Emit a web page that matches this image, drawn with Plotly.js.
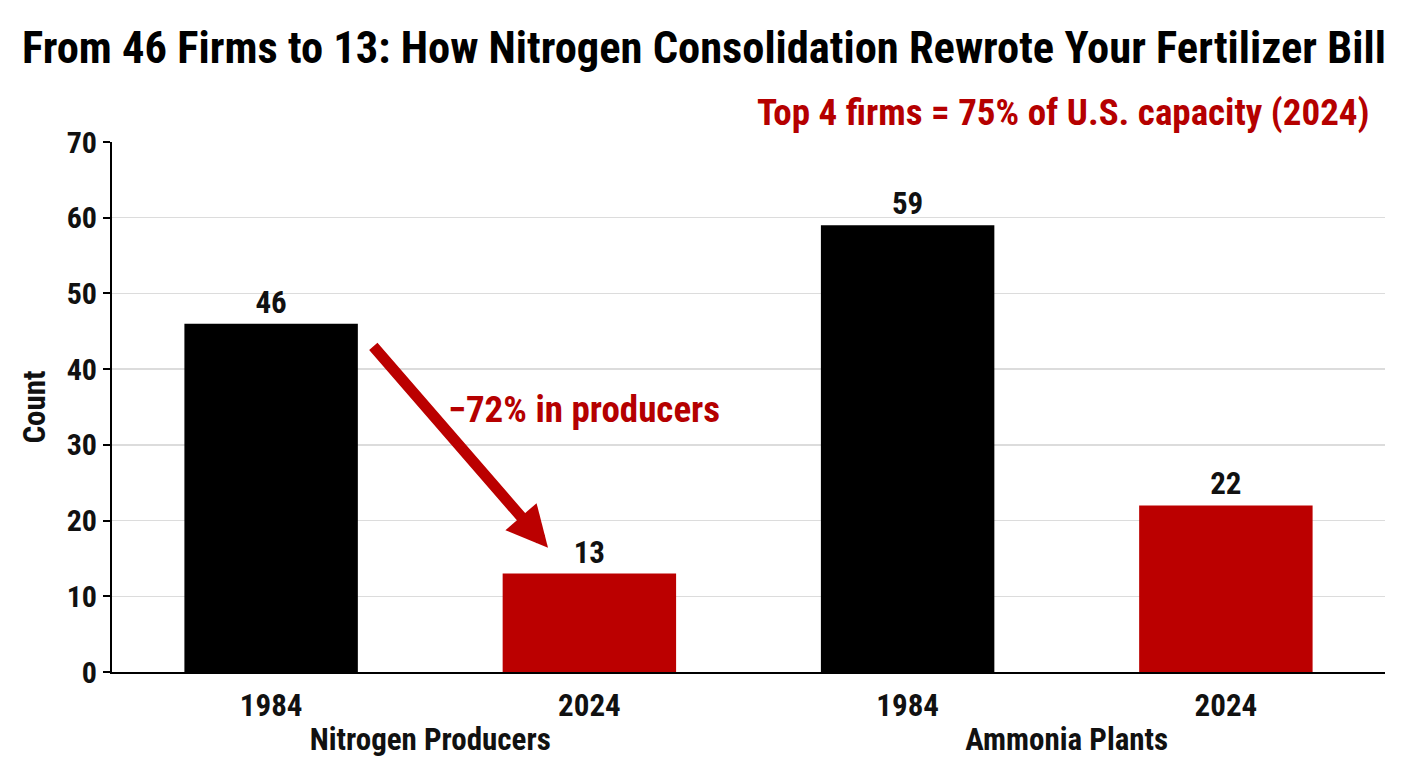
<!DOCTYPE html>
<html>
<head>
<meta charset="utf-8">
<script src="https://cdn.plot.ly/plotly-3.0.1.min.js"></script>
<style>html,body{margin:0;padding:0;background:#fff;}#chart{width:1408px;height:768px;}</style>
</head>
<body>
<div id="chart"></div>
<script>
const groups = ["Nitrogen Producers", "Nitrogen Producers", "Ammonia Plants", "Ammonia Plants"];
const years = ["1984", "2024", "1984", "2024"];
const counts = [46, 13, 59, 22];
const barColors = ["#000000", "#BB0000", "#000000", "#BB0000"];
const yTicks = [0, 10, 20, 30, 40, 50, 60, 70];

const FONT = "'Roboto Condensed', 'Liberation Sans Narrow', 'Arial Narrow', Roboto, sans-serif";
const RED = "#B50000";

const trace = {
  type: "bar",
  x: [groups, years],
  y: counts,
  marker: {color: barColors, line: {width: 0}},
  width: 0.545,
  text: counts.map(String),
  textposition: "outside",
  cliponaxis: false,
  textfont: {family: FONT, size: 31, color: "#111", weight: "bold"},
  hoverinfo: "skip"
};

const layout = {
  width: 1408, height: 768,
  margin: {l: 112, r: 23, t: 142, b: 96},
  paper_bgcolor: "#fff", plot_bgcolor: "#fff",
  font: {family: FONT, color: "#111", weight: "bold"},
  showlegend: false,
  title: {
    text: "From 46 Firms to 13: How Nitrogen Consolidation Rewrote Your Fertilizer Bill",
    font: {family: FONT, size: 44.5, color: "#000", weight: "bold"},
    x: 0.5, xanchor: "center", y: 0.938, yanchor: "middle"
  },
  xaxis: {
    type: "multicategory",
    showdividers: false,
    showline: true, linecolor: "#000", linewidth: 2,
    ticks: "", showgrid: false,
    ticklabelstandoff: 5,
    tickfont: {family: FONT, size: 31, color: "#111", weight: "bold"}
  },
  yaxis: {
    range: [0, 70],
    tickvals: yTicks,
    showline: true, linecolor: "#000", linewidth: 2,
    ticks: "outside", ticklen: 7, tickwidth: 2, tickcolor: "#000",
    showgrid: true, gridcolor: "#dcdcdc", gridwidth: 1.5,
    zeroline: false,
    tickfont: {family: FONT, size: 30, color: "#111", weight: "bold"},
    title: {text: "Count", font: {family: FONT, size: 31, color: "#111", weight: "bold"}, standoff: 12}
  },
  annotations: [
    {
      text: "Top 4 firms = 75% of U.S. capacity (2024)",
      xref: "paper", yref: "paper", x: 0.99, y: 1.055,
      xanchor: "right", yanchor: "middle", showarrow: false,
      font: {family: FONT, size: 37, color: RED, weight: "bold"}
    },
    {
      text: "",
      xref: "paper", yref: "y", x: 0.3425, y: 16.4,
      ax: -176, ay: -203, axref: "pixel", ayref: "pixel",
      showarrow: true, arrowhead: 2, arrowsize: 0.75, arrowwidth: 11, arrowcolor: "#BB0000"
    },
    {
      text: "\u221272% in producers",
      xref: "paper", yref: "y", x: 0.371, y: 34.7,
      xanchor: "center", yanchor: "middle", showarrow: false,
      font: {family: FONT, size: 37, color: RED, weight: "bold"}
    }
  ]
};

Plotly.newPlot("chart", [trace], layout, {displayModeBar: false, staticPlot: true});
</script>
</body>
</html>
